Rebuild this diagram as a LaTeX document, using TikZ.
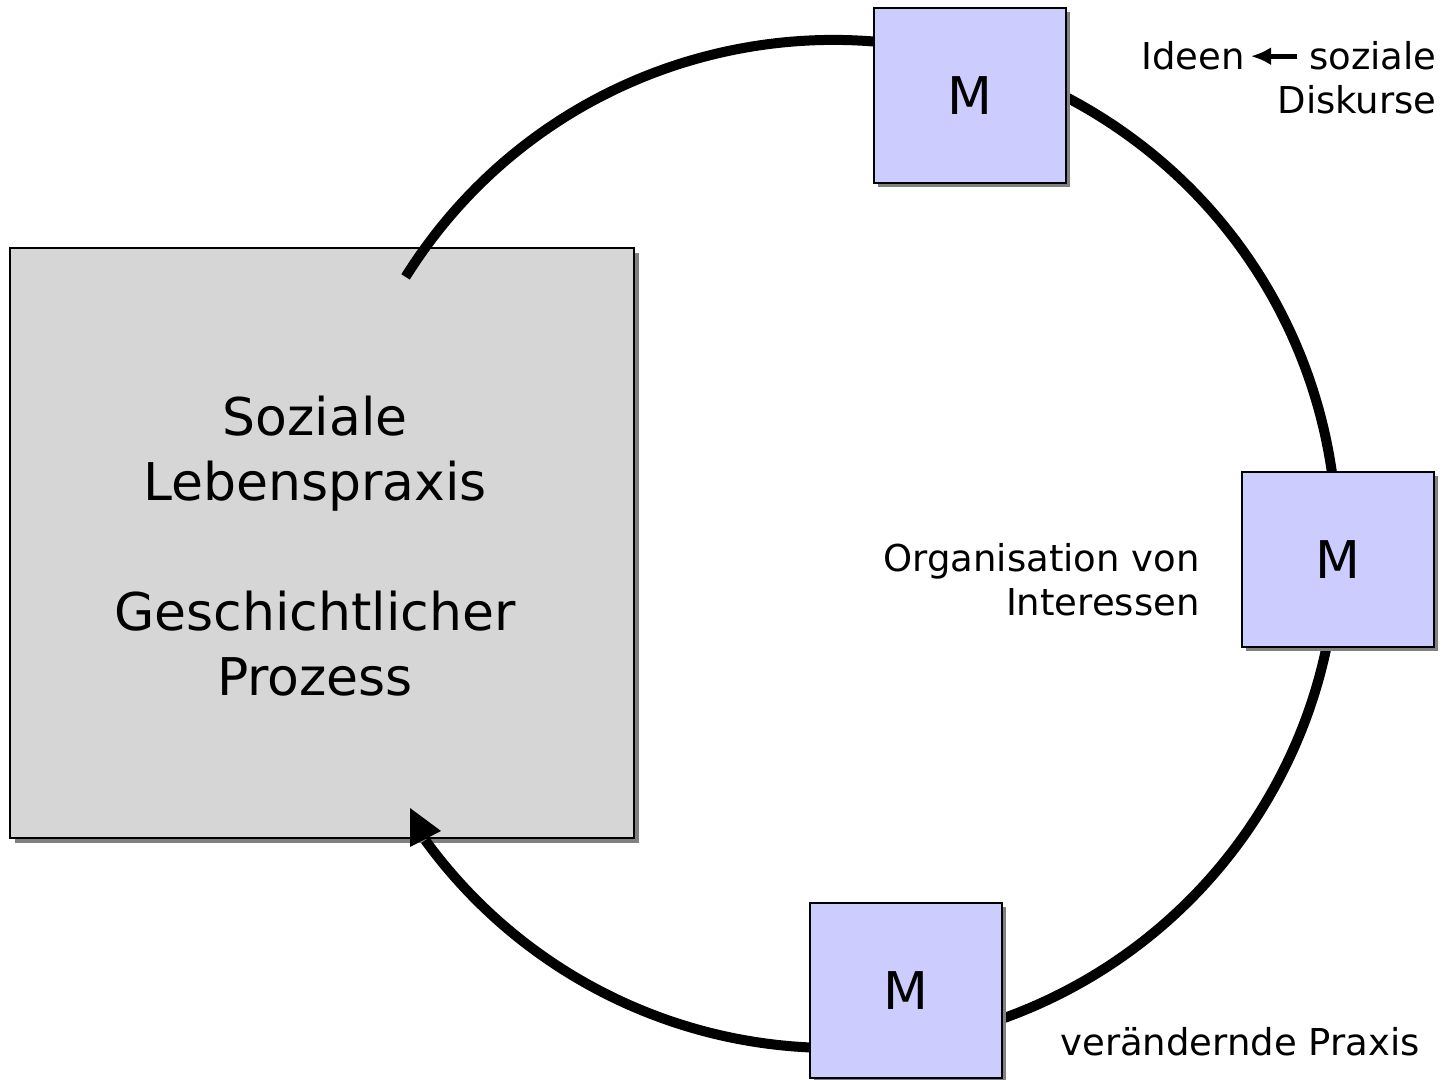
\documentclass[tikz,border=0pt]{standalone}
\usepackage{fontspec}
\setmainfont{DejaVu Sans}
\usetikzlibrary{arrows.meta,shadows,positioning}
\definecolor{mblue}{HTML}{CCCCFF}
\definecolor{boxgray}{HTML}{D6D6D6}

\begin{document}
\begin{tikzpicture}[x=0.5pt,y=0.5pt,>=Latex]
  \tikzset{
    mbox/.style={draw,line width=1pt,fill=mblue,minimum width=96pt,minimum height=87.5pt,
      font=\fontsize{26}{32}\selectfont,
      drop shadow={shadow xshift=2pt,shadow yshift=-2pt,fill=gray,opacity=1}},
    lbl/.style={inner sep=0pt,font=\fontsize{18.5}{22}\selectfont}
  }
  \useasboundingbox (0,0) rectangle (1448,1080);

  \node[draw,line width=1pt,fill=boxgray,minimum width=312pt,minimum height=295pt,
        drop shadow={shadow xshift=2.5pt,shadow yshift=-2.5pt,fill=gray,opacity=1}]
    (praxis) at (322,537) {};
  \node[align=center,font=\fontsize{26}{32.5}\selectfont] (praxistext) at (315,534)
    {Soziale\\Lebenspraxis\\[32.5pt]Geschichtlicher\\Prozess};

  % cycle
  \coordinate (mid) at (833,536);
  \draw[line width=5pt] (mid) ++(148:504) arc[start angle=148,end angle=-144,radius=504];
  \fill (410,272) -- (441,249) -- (410,233) -- cycle;

  \node[mbox] (m1) at (970,984.5) {M};
  \node[mbox] (m2) at (1338,520.5) {M};
  \node[mbox] (m3) at (906,89) {M};

  \node[lbl,anchor=base east] (soziale) at (1437,1010) {soziale};
  \node[lbl,anchor=base east] (diskurse) at (1437,966) {Diskurse};
  \node[lbl,anchor=base east] (ideen) at (1245,1010) {Ideen};
  \draw[-{Latex[length=10pt,width=9pt]},line width=2.5pt,shorten <=6pt,shorten >=3pt]
    (soziale.west) -- (ideen.east);

  \node[lbl,align=right,anchor=east] (orga) at (1200,500) {Organisation von\\Interessen};
  \node[lbl,anchor=base] (veraend) at (1240,24) {verändernde Praxis};
\end{tikzpicture}
\end{document}
